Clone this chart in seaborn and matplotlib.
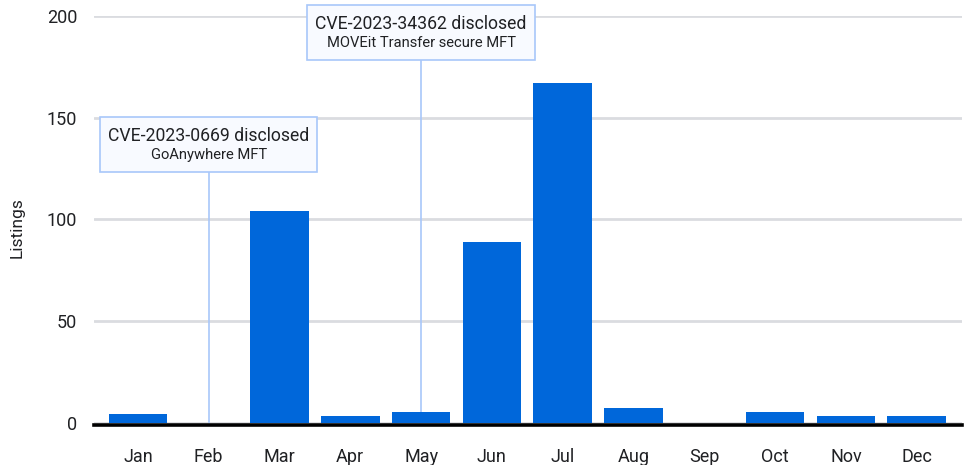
import matplotlib
matplotlib.use("Agg")
import matplotlib.pyplot as plt
import seaborn as sns
import pandas as pd
from matplotlib.offsetbox import (AnnotationBbox, TextArea, VPacker, HPacker,
                                  DrawingArea)

months = ["Jan", "Feb", "Mar", "Apr", "May", "Jun",
          "Jul", "Aug", "Sep", "Oct", "Nov", "Dec"]
listings = [4, 0, 104, 3, 5, 89, 167, 7, 0, 5, 3, 3]
y_ticks = [0, 50, 100, 150, 200]

events_month = ["Feb", "May"]
events_title = ["CVE-2023-0669 disclosed", "CVE-2023-34362 disclosed"]
events_product = ["GoAnywhere MFT", "MOVEit Transfer secure MFT"]
events_height = [123.4, 178.5]

BAR = "#0067DA"
EVENT = "#A8C7FA"
GRID = "#DADCE0"

sns.set_theme(style="white")
plt.rcParams["font.family"] = ["Roboto", "DejaVu Sans"]

df = pd.DataFrame({"month": months, "listings": listings})

fig = plt.figure(figsize=(9.69, 4.65), dpi=100)
ax = fig.add_axes([0.097, 0.0912, 0.8958, 0.8738])

sns.barplot(data=df, x="month", y="listings", color=BAR, saturation=1,
            width=0.83, ax=ax, zorder=3, edgecolor="none")

ax.set_ylim(0, 200)
ax.set_xlim(-0.62, 11.64)
ax.set_yticks(y_ticks)
ax.yaxis.grid(True, color=GRID, lw=2.0, zorder=0)
ax.set_axisbelow(True)

for side in ["left", "right", "top"]:
    ax.spines[side].set_visible(False)
ax.spines["bottom"].set_color("black")
ax.spines["bottom"].set_linewidth(2.6)
ax.spines["bottom"].set_position(("outward", 1.5))
ax.spines["bottom"].set_zorder(4)

ax.tick_params(axis="both", length=0, labelsize=13, colors="#202124")
ax.tick_params(axis="y", pad=12)
ax.tick_params(axis="x", pad=17)
ax.set_xlabel("")
ax.set_ylabel("Listings", fontsize=12.5, color="#202124", labelpad=10)
ax.yaxis.set_label_coords(-0.08, 0.48)

# event callouts: a thin stem from the baseline up to a labelled box
for m, title, product, h in zip(events_month, events_title,
                                events_product, events_height):
    xi = months.index(m)
    ax.plot([xi, xi], [0, h], color=EVENT, lw=1.2, zorder=2)
    lines = VPacker(children=[
        DrawingArea(1, 2),
        TextArea(title, textprops=dict(fontsize=12.7, color="#202124")),
        TextArea(product, textprops=dict(fontsize=10.6, color="#202124")),
        DrawingArea(1, 2),
    ], align="center", pad=0, sep=2)
    content = HPacker(children=[DrawingArea(2.5, 1), lines, DrawingArea(2.5, 1)],
                      align="center", pad=0, sep=0)
    ab = AnnotationBbox(content, (xi, h), xybox=(0, 3),
                        xycoords="data", boxcoords="offset points",
                        box_alignment=(0.5, 0.0),
                        frameon=True, pad=0.45,
                        bboxprops=dict(facecolor="#F8FAFF", edgecolor=EVENT,
                                       lw=1.2, boxstyle="square"),
                        annotation_clip=False, zorder=5)
    ax.add_artist(ab)

fig.savefig("out.png", dpi=100)
